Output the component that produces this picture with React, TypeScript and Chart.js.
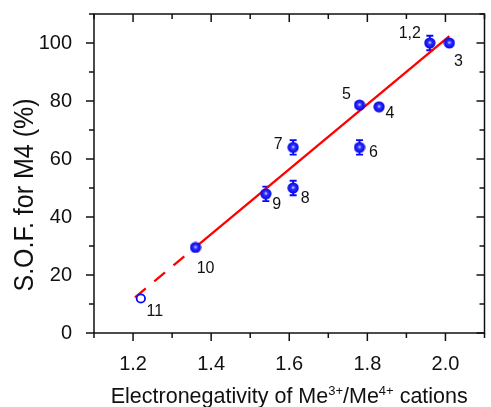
import { useEffect, useRef } from "react";
import { Chart, registerables } from "chart.js";

Chart.register(...registerables);

// ---- data ----
const sampleLabels = ["1,2", "3", "4", "5", "6", "7", "8", "9", "10"];
const electronegativity = [1.96, 2.01, 1.83, 1.78, 1.78, 1.61, 1.61, 1.54, 1.36];
const sofM4 = [100, 100, 78, 78.6, 64, 64, 50, 48, 29.5];
const sofError = [2.5, 1, 1, 1, 2.5, 2.5, 2.5, 2.5, 1];

const excludedLabels = ["11"];
const excludedX = [1.22];
const excludedY = [11.9];

const fitDashX = [1.205, 1.36];
const fitDashY = [12.3, 29.6];
const fitSolidX = [1.36, 2.01];
const fitSolidY = [29.6, 102.4];

const yTitle = "S.O.F. for M4 (%)";
const xTitleParts: [string, boolean][] = [
  ["Electronegativity of Me", false],
  ["3+", true],
  ["/Me", false],
  ["4+", true],
  [" cations", false],
];

// ---- style ----
const FONT = '"Liberation Sans", Arial, Helvetica, sans-serif';
const BLUE = "#0808ff";
const INK = "#111";

const labelOffsets: Record<string, [number, number]> = {
  "1,2": [-20, -9],
  "3": [9, 19],
  "4": [11, 7],
  "5": [-13, -10],
  "6": [14, 5],
  "7": [-15, -3],
  "8": [12, 11],
  "9": [11, 11],
  "10": [10, 21],
  "11": [14, 13],
};

function makeBall(): HTMLCanvasElement {
  const c = document.createElement("canvas");
  c.width = 12;
  c.height = 12;
  const g = c.getContext("2d")!;
  const grad = g.createRadialGradient(6, 5.5, 0.3, 6, 6, 5.8);
  grad.addColorStop(0, "#c8d0ff");
  grad.addColorStop(0.3, "#3030ff");
  grad.addColorStop(1, "#0000e0");
  g.fillStyle = grad;
  g.beginPath();
  g.arc(6, 6, 5.6, 0, Math.PI * 2);
  g.fill();
  return c;
}

const isMajorX = (v: number) => Math.round(v * 10) % 2 === 0;
const isMajorY = (v: number) => Math.round(v) % 20 === 0;

const framePlugin = {
  id: "frameTicks",
  afterDraw(chart: any) {
    const { ctx, chartArea } = chart;
    const { left, right, top, bottom } = chartArea;
    const xs = chart.scales.x;
    const ys = chart.scales.y;
    ctx.save();
    ctx.strokeStyle = INK;
    ctx.lineWidth = 1.5;
    ctx.strokeRect(left, top, right - left, bottom - top);
    ctx.beginPath();
    xs.ticks.forEach((t: any) => {
      const px = xs.getPixelForValue(t.value);
      const len = isMajorX(t.value) ? 8 : 5;
      ctx.moveTo(px, bottom);
      ctx.lineTo(px, bottom + len);
      ctx.moveTo(px, top);
      ctx.lineTo(px, top + len);
    });
    ys.ticks.forEach((t: any) => {
      const py = ys.getPixelForValue(t.value);
      const len = isMajorY(t.value) ? 8 : 5;
      ctx.moveTo(left, py);
      ctx.lineTo(left - len, py);
      ctx.moveTo(right, py);
      ctx.lineTo(right - len, py);
    });
    ctx.stroke();

    // y title
    ctx.fillStyle = INK;
    ctx.save();
    ctx.translate(33, 195);
    ctx.rotate(-Math.PI / 2);
    ctx.font = `28px ${FONT}`;
    const w = ctx.measureText(yTitle).width;
    ctx.scale(193 / w, 1);
    ctx.textAlign = "center";
    ctx.textBaseline = "alphabetic";
    ctx.fillText(yTitle, 0, 0);
    ctx.restore();

    // x title with superscripts
    const mainFont = `21.5px ${FONT}`;
    const supFont = `13px ${FONT}`;
    let total = 0;
    xTitleParts.forEach(([s, sup]) => {
      ctx.font = sup ? supFont : mainFont;
      total += ctx.measureText(s).width;
    });
    let cx = (left + right) / 2 - total / 2;
    const base = 403;
    ctx.textAlign = "left";
    ctx.textBaseline = "alphabetic";
    xTitleParts.forEach(([s, sup]) => {
      ctx.font = sup ? supFont : mainFont;
      ctx.fillText(s, cx, sup ? base - 8 : base);
      cx += ctx.measureText(s).width;
    });
    ctx.restore();
  },
};

const errorBarPlugin = {
  id: "errorBars",
  beforeDatasetsDraw(chart: any) {
    const { ctx } = chart;
    const xs = chart.scales.x;
    const ys = chart.scales.y;
    ctx.save();
    ctx.strokeStyle = BLUE;
    ctx.lineWidth = 1.8;
    ctx.beginPath();
    electronegativity.forEach((xv, i) => {
      const e = sofError[i];
      const px = xs.getPixelForValue(xv);
      const y1 = ys.getPixelForValue(sofM4[i] + e);
      const y2 = ys.getPixelForValue(sofM4[i] - e);
      ctx.moveTo(px, y1);
      ctx.lineTo(px, y2);
      ctx.moveTo(px - 3.5, y1);
      ctx.lineTo(px + 3.5, y1);
      ctx.moveTo(px - 3.5, y2);
      ctx.lineTo(px + 3.5, y2);
    });
    ctx.stroke();
    ctx.restore();
  },
};

const labelPlugin = {
  id: "pointLabels",
  afterDatasetsDraw(chart: any) {
    const { ctx } = chart;
    const xs = chart.scales.x;
    const ys = chart.scales.y;
    ctx.save();
    ctx.fillStyle = INK;
    ctx.font = `16px ${FONT}`;
    ctx.textAlign = "center";
    ctx.textBaseline = "middle";
    const draw = (lab: string, xv: number, yv: number) => {
      const [dx, dy] = labelOffsets[lab] || [10, 10];
      ctx.fillText(lab, xs.getPixelForValue(xv) + dx, ys.getPixelForValue(yv) + dy);
    };
    sampleLabels.forEach((lab, i) => draw(lab, electronegativity[i], sofM4[i]));
    excludedLabels.forEach((lab, i) => draw(lab, excludedX[i], excludedY[i]));
    ctx.restore();
  },
};

export default function App() {
  const ref = useRef<HTMLCanvasElement | null>(null);

  useEffect(() => {
    if (!ref.current) return;
    const ball = makeBall();
    const chart = new Chart(ref.current, {
      type: "scatter",
      data: {
        datasets: [
          {
            label: "samples",
            data: electronegativity.map((x, i) => ({ x, y: sofM4[i] })),
            pointStyle: ball as any,
            pointRadius: 5.5,
            backgroundColor: BLUE,
            borderColor: BLUE,
          },
          {
            label: "excluded",
            data: excludedX.map((x, i) => ({ x, y: excludedY[i] })),
            pointStyle: "circle",
            pointRadius: 4.2,
            backgroundColor: "#ffffff",
            borderColor: BLUE,
            borderWidth: 1.8,
          },
          {
            label: "fit",
            data: fitSolidX.map((x, i) => ({ x, y: fitSolidY[i] })),
            showLine: true,
            pointRadius: 0,
            borderColor: "#ff0000",
            borderWidth: 2.3,
          },
          {
            label: "fit extrapolated",
            data: fitDashX.map((x, i) => ({ x, y: fitDashY[i] })),
            showLine: true,
            pointRadius: 0,
            borderColor: "#ff0000",
            borderWidth: 2.3,
            borderDash: [14, 11],
          },
        ],
      },
      options: {
        animation: false,
        responsive: false,
        devicePixelRatio: 1,
        layout: { padding: { left: 0, top: 14, right: 1, bottom: 0 } },
        plugins: { legend: { display: false }, tooltip: { enabled: false } },
        scales: {
          x: {
            type: "linear",
            min: 1.1,
            max: 2.1,
            grid: { display: false },
            border: { display: false },
            ticks: {
              stepSize: 0.1,
              autoSkip: false,
              maxRotation: 0,
              padding: 11,
              color: INK,
              font: { family: FONT, size: 20 },
              callback: (v: any) => {
                const n = Number(v);
                return isMajorX(n) && n > 1.15 && n < 2.05 ? n.toFixed(1) : "";
              },
            },
            afterFit: (s: any) => {
              s.height = 74;
              s.paddingLeft = 0;
              s.paddingRight = 0;
            },
          },
          y: {
            type: "linear",
            min: 0,
            max: 110,
            grid: { display: false },
            border: { display: false },
            ticks: {
              stepSize: 10,
              autoSkip: false,
              padding: 14,
              color: INK,
              font: { family: FONT, size: 20 },
              callback: (v: any) => {
                const n = Number(v);
                return isMajorY(n) && n <= 100 ? String(Math.round(n)) : "";
              },
            },
            afterFit: (s: any) => {
              s.width = 94;
              s.paddingTop = 0;
              s.paddingBottom = 0;
            },
          },
        },
      },
      plugins: [errorBarPlugin, labelPlugin, framePlugin],
    });
    return () => chart.destroy();
  }, []);

  return (
    <div style={{ position: "absolute", left: 0, top: 0, width: 491, height: 407, background: "#fff" }}>
      <canvas ref={ref} width={491} height={407} style={{ display: "block" }} />
    </div>
  );
}
